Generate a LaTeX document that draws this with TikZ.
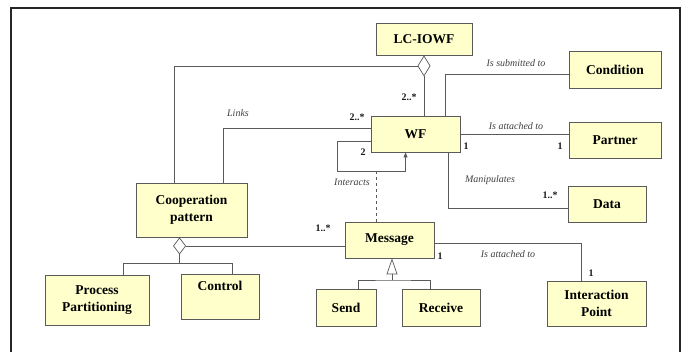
\documentclass[tikz,border=0pt]{standalone}
\usepackage{fontspec}
\setmainfont{Liberation Serif}
\usetikzlibrary{arrows.meta,calc}
\definecolor{boxfill}{HTML}{FFFFCC}
\definecolor{linec}{HTML}{5A5A5A}
\begin{document}
\begin{tikzpicture}[x=1pt,y=-1pt,
 cls/.style={draw=linec, fill=boxfill, line width=0.9pt, font=\fontsize{13.5}{17.5}\selectfont\bfseries, align=center, inner sep=0pt},
 clstext/.style={font=\fontsize{13.5}{17.5}\selectfont\bfseries, inner sep=0pt},
 conn/.style={draw=linec, line width=0.7pt},
 lbl/.style={font=\fontsize{10}{12}\selectfont\itshape, text=black!75, inner sep=0pt},
 mult/.style={font=\fontsize{10}{12}\selectfont\bfseries, text=black!90, inner sep=0pt}]
\useasboundingbox (0,0) rectangle (686,352);
\fill[white] (0,0) rectangle (686,352);
\draw[line width=2pt, black!85] (11,360) -- (11,8) -- (680,8) -- (680,360);

% classes
\node[cls, minimum width=96pt, minimum height=32pt] (lc) at (424,39) {LC-IOWF};
\node[cls, minimum width=92pt, minimum height=37pt] (cond) at (615,69.5) {Condition};
\node[cls, minimum width=89pt, minimum height=36pt] (wf) at (415.5,134) {WF};
\node[cls, minimum width=92pt, minimum height=36pt] (partner) at (615,140) {Partner};
\node[cls, minimum width=78pt, minimum height=36pt] (data) at (607,204) {Data};
\node[cls, minimum width=89pt, minimum height=36pt] (msg) at (389.5,240) {Message};
\node[cls, minimum width=60pt, minimum height=37pt] (send) at (346,307.5) {Send};
\node[cls, minimum width=78pt, minimum height=37pt] (recv) at (441,307.5) {Receive};
\node[cls, minimum width=99pt, minimum height=45pt] (ip) at (596.5,303.5) {Interaction\\Point};
\node[cls, minimum width=111pt, minimum height=54pt] (coop) at (191.5,210) {Cooperation\\pattern};
\node[cls, minimum width=104pt, minimum height=50pt] (proc) at (97,300) {Process\\Partitioning};
\node[cls, minimum width=78pt, minimum height=45pt] (ctrl) at (220,296.5) {};
\node[clstext] (ctrlt) at (220,286) {Control};

% LC-IOWF aggregation
\draw[conn, {Diamond[open,length=21pt,width=13pt]}-] (lc.south) -- (wf.north -| lc.south);
\coordinate (dl) at ($(lc.south)+(-6.5,10.5)$);
\draw[conn] (dl) -| ($(coop.north west)+(39,0)$);

% Links
\coordinate (lk) at ($(wf.north west)+(0,13)$);
\draw[conn] (lk) -| ($(coop.north west)+(88,0)$);

% self loop (Interacts)
\coordinate (s1) at ($(wf.north west)+(0,26)$);
\coordinate (s2) at (337,171);
\draw[conn, -{Triangle[length=5pt,width=4pt]}] (s1) -| (s2) -| ($(wf.south west)+(35,0)$);
\coordinate (m1) at ($(msg.north west)+(32,0)$);
\draw[conn, dashed] (m1) -- (m1 |- s2);

% Condition
\draw[conn] ($(wf.north west)+(75,0)$) |- ($(cond.west)+(0,5)$);
% Partner
\coordinate (pa) at ($(wf.north east)+(0,19)$);
\draw[conn] (pa) -- (pa -| partner.west);
% Data
\draw[conn] ($(wf.south west)+(78,0)$) |- ($(data.west)+(0,4)$);
% Message - Interaction Point
\draw[conn] ($(msg.north east)+(0,22)$) -| ($(ip.north west)+(35,0)$);

% Cooperation aggregation
\coordinate (cd) at ($(coop.south west)+(44,0)$);
\draw[conn, {Diamond[open,length=17pt,width=13pt]}-] (cd) -- ++(0,26) coordinate (c1);
\draw[conn] ($(proc.north west)+(79,0)$) |- (c1) -| ($(ctrl.north west)+(52,0)$);
\coordinate (cr) at ($(cd)+(6.5,8.5)$);
\draw[conn] (cr) -- (cr -| msg.west);

% Generalization
\coordinate (gen) at (392,280);
\draw[conn, -{Triangle[open,length=16pt,width=11pt]}] (gen) -- (gen |- msg.south);
\draw[conn] ($(send.north west)+(43,0)$) |- (gen) -| ($(recv.north west)+(29,0)$);

% labels
\node[mult] (m2a) at (409,97) {2..*};
\node[lbl] (llinks) at (238,113) {Links};
\node[mult] (m2b) at (357,117) {2..*};
\node[mult] (m2c) at (363,152) {2};
\node[lbl] (linter) at (352,182) {Interacts};
\node[lbl] (lsub) at (516,63) {Is submitted to};
\node[lbl] (latt1) at (516,126) {Is attached to};
\node[mult] (m1a) at (466,146) {1};
\node[mult] (m1b) at (560,146) {1};
\node[lbl] (lman) at (490,180) {Manipulates};
\node[mult] (m1c) at (550,195) {1..*};
\node[lbl] (latt2) at (508,254) {Is attached to};
\node[mult] (m1d) at (440,256) {1};
\node[mult] (m1e) at (591,273) {1};
\node[mult] (m1f) at (323,228) {1..*};
\end{tikzpicture}
\end{document}
